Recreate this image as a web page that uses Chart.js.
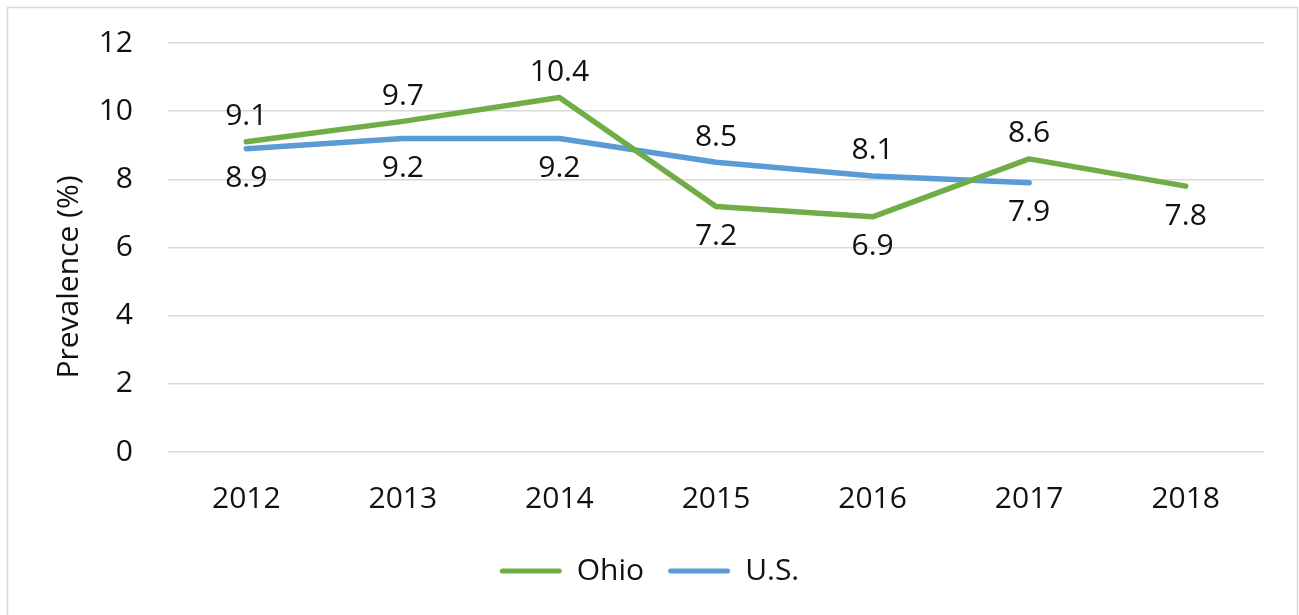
<!DOCTYPE html>
<html>
<head>
<meta charset="utf-8">
<script src="https://cdn.jsdelivr.net/npm/chart.js@4.4.1/dist/chart.umd.min.js"></script>
<style>
  html, body { margin: 0; padding: 0; background: #fff; }
  #wrap { position: relative; width: 1299px; height: 615px; }
</style>
</head>
<body>
<div id="wrap"><canvas id="prevChart" width="1299" height="615"></canvas></div>
<script>
// data
const years = ['2012', '2013', '2014', '2015', '2016', '2017', '2018'];
const ohio = [9.1, 9.7, 10.4, 7.2, 6.9, 8.6, 7.8];
const us = [8.9, 9.2, 9.2, 8.5, 8.1, 7.9, null];
// where each value label sits relative to its point
const ohioLabelSide = ['above', 'above', 'above', 'below', 'below', 'above', 'below'];
const usLabelSide = ['below', 'below', 'below', 'above', 'above', 'below', 'below'];

const FONT = '"Open Sans", "Noto Sans", sans-serif';

// frame round the whole chart + rotated y title
const framePlugin = {
    id: 'frame',
    beforeDraw(chart) {
        const c = chart.ctx;
        c.save();
        c.strokeStyle = '#d9d9d9';
        c.lineWidth = 1.5;
        c.strokeRect(7.5, 7.5, 1290, 700);
        c.restore();
    },
    afterDraw(chart) {
        const c = chart.ctx;
        c.save();
        c.translate(69, 277);
        c.rotate(-Math.PI / 2);
        c.font = '30px ' + FONT;
        c.fillStyle = '#111';
        c.textAlign = 'center';
        c.textBaseline = 'middle';
        c.fillText('Prevalence (%)', 0, 0);
        c.restore();
    }
};

// value labels above / below the points
const valueLabels = {
    id: 'valueLabels',
    afterDatasetsDraw(chart) {
        const c = chart.ctx;
        c.save();
        c.font = '30px ' + FONT;
        c.fillStyle = '#111';
        c.textAlign = 'center';
        c.textBaseline = 'middle';
        chart.data.datasets.forEach((ds, i) => {
            const meta = chart.getDatasetMeta(i);
            meta.data.forEach((pt, j) => {
                const v = ds.data[j];
                if (v === null || v === undefined) return;
                const dy = ds.labelSide[j] === 'above' ? -25 : 30;
                c.fillText(v.toFixed(1), pt.x, pt.y + dy);
            });
        });
        c.restore();
    }
};

const ctx = document.getElementById('prevChart').getContext('2d');
const chart = new Chart(ctx, {
    type: 'line',
    data: {
        labels: years,
        datasets: [{
            label: 'Ohio',
            data: ohio,
            labelSide: ohioLabelSide,
            borderColor: '#70AD47',
            backgroundColor: '#70AD47',
            borderWidth: 5.5,
            borderCapStyle: 'round',
            borderJoinStyle: 'round',
            pointRadius: 0,
            tension: 0
        }, {
            label: 'U.S.',
            data: us,
            labelSide: usLabelSide,
            borderColor: '#5B9BD5',
            backgroundColor: '#5B9BD5',
            borderWidth: 5.5,
            borderCapStyle: 'round',
            borderJoinStyle: 'round',
            pointRadius: 0,
            tension: 0
        }]
    },
    options: {
        responsive: false,
        animation: false,
        layout: { padding: { left: 35, right: 35, top: 43, bottom: 19 } },
        plugins: {
            tooltip: { enabled: false },
            legend: {
                position: 'bottom',
                labels: {
                    font: { family: FONT, size: 30 },
                    color: '#111',
                    boxWidth: 62,
                    boxHeight: 5,
                    padding: 24,
                    generateLabels(chart) {
                        return chart.data.datasets.map((ds, i) => ({
                            text: ds.label,
                            fillStyle: ds.borderColor,
                            strokeStyle: ds.borderColor,
                            lineWidth: 0,
                            borderRadius: 2.5,
                            fontColor: '#111',
                            hidden: false,
                            datasetIndex: i
                        }));
                    }
                }
            }
        },
        scales: {
            x: {
                offset: true,
                grid: { display: false, drawTicks: false },
                border: { display: false },
                ticks: { font: { family: FONT, size: 30 }, color: '#111', padding: 29 },
                afterFit(scale) {
                    scale.height = 80;
                    scale.paddingLeft = 0;
                    scale.paddingRight = 0;
                }
            },
            y: {
                min: 0,
                max: 12,
                grid: { color: '#d9d9d9', lineWidth: 1.5, drawTicks: false },
                border: { display: false },
                ticks: { stepSize: 2, font: { family: FONT, size: 30 }, color: '#111', padding: 35 },
                afterFit(scale) {
                    scale.width = 133;
                    scale.paddingTop = 0;
                    scale.paddingBottom = 0;
                }
            }
        }
    },
    plugins: [framePlugin, valueLabels]
});
</script>
</body>
</html>
